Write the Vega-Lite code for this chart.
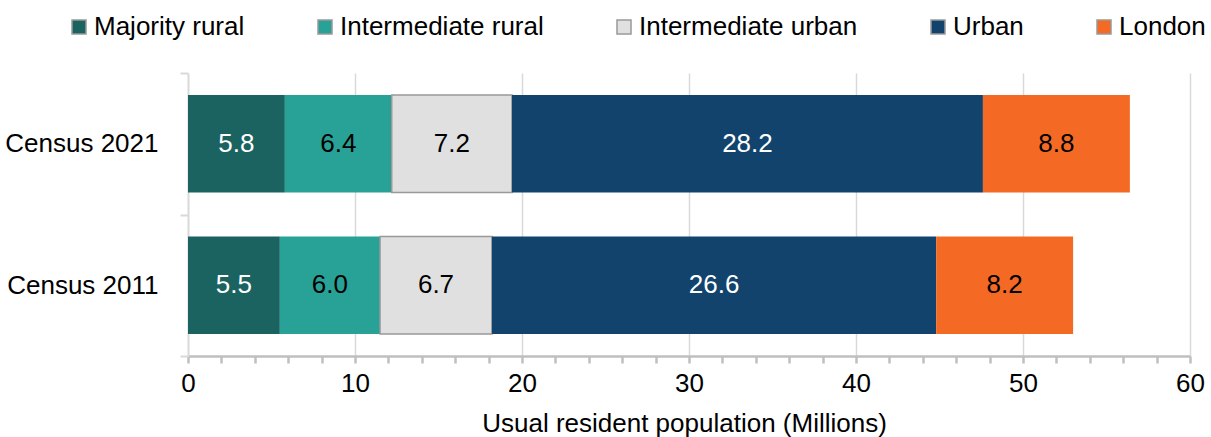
{
  "$schema": "https://vega.github.io/schema/vega-lite/v6.json",
  "width": 1002,
  "height": 283,
  "autosize": {"type": "none"},
  "padding": {"left": 188, "top": 73, "right": 21, "bottom": 81},
  "config": {"font": "Liberation Sans", "view": {"stroke": null}},
  "data": {
    "values": [
      {"census": "Census 2021", "region": "Majority rural", "seq": 1, "value": 5.8},
      {"census": "Census 2021", "region": "Intermediate rural", "seq": 2, "value": 6.4},
      {"census": "Census 2021", "region": "Intermediate urban", "seq": 3, "value": 7.2},
      {"census": "Census 2021", "region": "Urban", "seq": 4, "value": 28.2},
      {"census": "Census 2021", "region": "London", "seq": 5, "value": 8.8},
      {"census": "Census 2011", "region": "Majority rural", "seq": 1, "value": 5.5},
      {"census": "Census 2011", "region": "Intermediate rural", "seq": 2, "value": 6.0},
      {"census": "Census 2011", "region": "Intermediate urban", "seq": 3, "value": 6.7},
      {"census": "Census 2011", "region": "Urban", "seq": 4, "value": 26.6},
      {"census": "Census 2011", "region": "London", "seq": 5, "value": 8.2}
    ]
  },
  "encoding": {
    "y": {
      "field": "census",
      "type": "nominal",
      "sort": ["Census 2021", "Census 2011"],
      "scale": {"paddingInner": 0, "paddingOuter": 0},
      "axis": {
        "title": null,
        "tickBand": "extent",
        "domainColor": "#d9d9d9",
        "domainWidth": 2,
        "tickColor": "#d9d9d9",
        "tickWidth": 2,
        "tickSize": 8,
        "labelFontSize": 26,
        "labelColor": "#000000",
        "labelPadding": 22,
        "grid": false
      }
    }
  },
  "layer": [
    {
      "mark": {"type": "bar", "stroke": "#999999", "strokeWidth": 1.5, "height": {"band": 0.69}},
      "encoding": {
        "x": {
          "field": "value",
          "type": "quantitative",
          "stack": "zero",
          "scale": {"domain": [0, 60], "nice": false},
          "title": "Usual resident population (Millions)",
          "axis": {
            "values": [0, 2, 4, 6, 8, 10, 12, 14, 16, 18, 20, 22, 24, 26, 28, 30, 32, 34, 36, 38, 40, 42, 44, 46, 48, 50, 52, 54, 56, 58, 60],
            "tickCount": 100,
            "format": "d",
            "labelExpr": "datum.value % 10 === 0 ? datum.label : ''",
            "labelOverlap": false,
            "labelFlush": false,
            "grid": true,
            "gridColor": "#d9d9d9",
            "gridWidth": 1.5,
            "gridOpacity": {"condition": {"test": "datum.value % 10 === 0 && datum.value > 0", "value": 1}, "value": 0},
            "domainColor": "#bfbfbf",
            "domainWidth": 2.5,
            "tickColor": "#bfbfbf",
            "tickWidth": 2.5,
            "tickSize": 7,
            "labelFontSize": 26,
            "labelColor": "#000000",
            "labelPadding": 7,
            "titleFontSize": 26,
            "titleColor": "#000000",
            "titleFontWeight": "normal",
            "titlePadding": 14,
            "titleX": 496
          }
        },
        "color": {
          "field": "region",
          "type": "nominal",
          "sort": ["Majority rural", "Intermediate rural", "Intermediate urban", "Urban", "London"],
          "scale": {
            "domain": ["Majority rural", "Intermediate rural", "Intermediate urban", "Urban", "London"],
            "range": ["#1b6360", "#28a197", "#e0e0e0", "#12436d", "#f46a25"]
          },
          "legend": {
            "title": null,
            "orient": "none",
            "direction": "horizontal",
            "legendX": -122,
            "legendY": -59,
            "symbolType": "square",
            "symbolSize": 196,
            "symbolStrokeWidth": 1.5,
            "labelFontSize": 26,
            "labelColor": "#000000",
            "labelOffset": 2,
            "labelLimit": 400,
            "columnPadding": 67,
            "encode": {
              "symbols": {
                "update": {
                  "stroke": {"signal": "datum.value === 'Intermediate urban' ? '#999999' : 'transparent'"}
                }
              }
            }
          }
        },
        "order": {"field": "seq", "type": "quantitative"},
        "strokeOpacity": {"condition": {"test": "datum.region === 'Intermediate urban'", "value": 1}, "value": 0}
      }
    },
    {
      "mark": {"type": "text", "fontSize": 26},
      "encoding": {
        "x": {"field": "value", "type": "quantitative", "stack": "zero", "bandPosition": 0.5},
        "detail": {"field": "region", "type": "nominal"},
        "order": {"field": "seq", "type": "quantitative"},
        "text": {"field": "value", "type": "quantitative", "format": ".1f"},
        "color": {"condition": {"test": "datum.region === 'Majority rural' || datum.region === 'Urban'", "value": "#ffffff"}, "value": "#000000"}
      }
    }
  ]
}
